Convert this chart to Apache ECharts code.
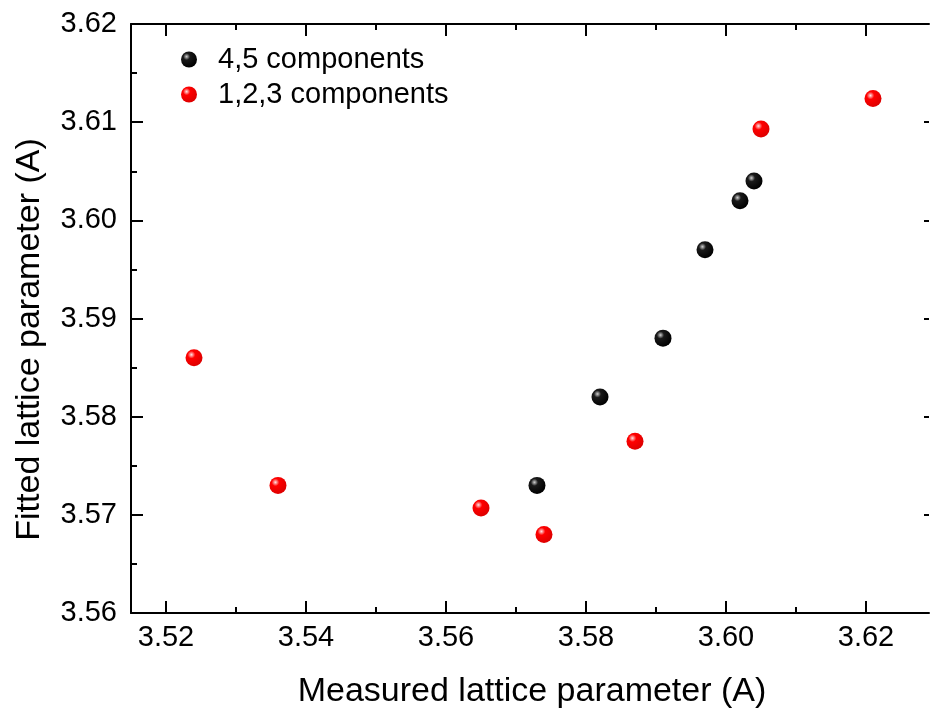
<!DOCTYPE html>
<html>
<head>
<meta charset="utf-8">
<script src="https://cdn.jsdelivr.net/npm/echarts@6/dist/echarts.min.js"></script>
<style>
html,body{margin:0;padding:0;background:#fff;}
#chart{width:930px;height:714px;}
</style>
</head>
<body>
<div id="chart"></div>
<script>
// Data
const seriesNames = ['4,5 components', '1,2,3 components'];
const measured45 = [3.573, 3.582, 3.591, 3.597, 3.602, 3.604];
const fitted45   = [3.573, 3.582, 3.588, 3.597, 3.602, 3.604];
const measured123 = [3.524, 3.536, 3.565, 3.574, 3.587, 3.605, 3.621];
const fitted123   = [3.586, 3.573, 3.5707, 3.568, 3.5775, 3.6093, 3.6124];
const xMajorTicks = [3.52, 3.54, 3.56, 3.58, 3.60, 3.62];
const xMinorTicks = [3.53, 3.55, 3.57, 3.59, 3.61];
const xTitle = 'Measured lattice parameter (A)';
const yTitle = 'Fitted lattice parameter (A)';

const FONT = '"Liberation Sans", Arial, sans-serif';
const sphere = (stops) => ({
  type: 'radial', x: 0.35, y: 0.32, r: 0.7,
  colorStops: stops.map(s => ({offset: s[0], color: s[1]}))
});
const blackBall = sphere([[0, '#d0d0d0'], [0.3, '#1a1a1a'], [1, '#000']]);
const redBall = sphere([[0, '#ffe4e4'], [0.32, '#ff0000'], [1, '#dd0000']]);

const pair = (xs, ys) => xs.map((x, i) => [x, ys[i]]);

const lineStyle = {color: '#000', width: 2};
const XMIN = 3.515, XMAX = 3.629;
const chart = echarts.init(document.getElementById('chart'));
chart.setOption({
  backgroundColor: '#fff',
  animation: false,
  grid: {left: 131, top: 24, bottom: 100, right: 1, containLabel: false},
  legend: {
    orient: 'vertical', left: 176, top: 40,
    itemWidth: 16, itemHeight: 16, itemGap: 6,
    icon: 'circle',
    textStyle: {fontFamily: FONT, fontSize: 29, color: '#000', padding: [0, 0, 0, 16]},
    data: seriesNames
  },
  xAxis: [
    {
      type: 'value', position: 'bottom', min: XMIN, max: XMAX,
      name: xTitle, nameLocation: 'middle', nameGap: 62,
      nameTextStyle: {fontFamily: FONT, fontSize: 34, color: '#000', padding: [0, 0, 0, 4]},
      axisLine: {show: true, onZero: false, lineStyle: lineStyle},
      axisTick: {show: true, inside: true, length: 12, lineStyle: lineStyle, customValues: xMajorTicks},
      axisLabel: {show: true, margin: 10, fontFamily: FONT, fontSize: 29, color: '#000',
        customValues: xMajorTicks, formatter: v => v.toFixed(2)},
      splitLine: {show: false}
    },
    {
      type: 'value', position: 'bottom', min: XMIN, max: XMAX,
      axisLine: {show: false, onZero: false},
      axisTick: {show: true, inside: true, length: 6, lineStyle: lineStyle, customValues: xMinorTicks},
      axisLabel: {show: false},
      splitLine: {show: false}
    },
    {
      type: 'value', position: 'top', min: XMIN, max: XMAX,
      axisLine: {show: true, onZero: false, lineStyle: lineStyle},
      axisTick: {show: true, inside: true, length: 12, lineStyle: lineStyle, customValues: xMajorTicks},
      axisLabel: {show: false},
      splitLine: {show: false}
    },
    {
      type: 'value', position: 'top', min: XMIN, max: XMAX,
      axisLine: {show: false, onZero: false},
      axisTick: {show: true, inside: true, length: 6, lineStyle: lineStyle, customValues: xMinorTicks},
      axisLabel: {show: false},
      splitLine: {show: false}
    }
  ],
  yAxis: [
    {
      type: 'value', position: 'left', min: 3.56, max: 3.62, interval: 0.01,
      name: yTitle, nameLocation: 'middle', nameGap: 84,
      nameTextStyle: {fontFamily: FONT, fontSize: 34, color: '#000', padding: [0, 42, 0, 0]},
      axisLine: {show: true, onZero: false, lineStyle: lineStyle},
      axisTick: {show: true, inside: true, length: 12, lineStyle: lineStyle},
      minorTick: {show: true, splitNumber: 2, length: 6, lineStyle: lineStyle},
      axisLabel: {show: true, margin: 14, fontFamily: FONT, fontSize: 29, color: '#000',
        formatter: v => v.toFixed(2)},
      splitLine: {show: false}
    },
    {
      type: 'value', position: 'right', min: 3.56, max: 3.62, interval: 0.01,
      axisLine: {show: false, onZero: false},
      axisTick: {show: true, inside: true, length: 5, lineStyle: lineStyle},
      axisLabel: {show: false},
      splitLine: {show: false}
    }
  ],
  series: [
    {
      name: seriesNames[0], type: 'scatter', xAxisIndex: 0, yAxisIndex: 0,
      symbol: 'circle', symbolSize: 17,
      itemStyle: {color: blackBall, opacity: 1},
      data: pair(measured45, fitted45)
    },
    {
      name: seriesNames[1], type: 'scatter', xAxisIndex: 0, yAxisIndex: 0,
      symbol: 'circle', symbolSize: 17,
      itemStyle: {color: redBall, opacity: 1},
      data: pair(measured123, fitted123)
    }
  ]
});
</script>
</body>
</html>
